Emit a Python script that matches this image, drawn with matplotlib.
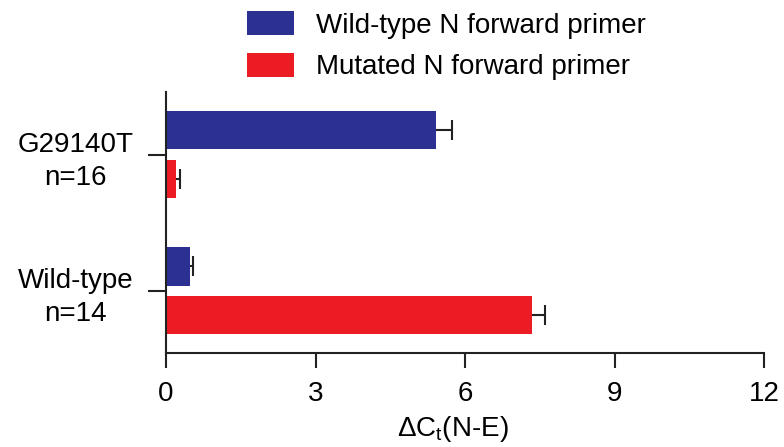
import numpy as np
import matplotlib.pyplot as plt

plt.rcParams['font.family'] = ['Liberation Sans', 'DejaVu Sans']
plt.rcParams['mathtext.fontset'] = 'custom'
plt.rcParams['mathtext.rm'] = 'Liberation Sans'
plt.rcParams['mathtext.it'] = 'Liberation Sans'

# data
groups = ['Wild-type\nn=14', 'G29140T\nn=16']
wt_primer = [0.48, 5.42]
wt_err = [0.06, 0.32]
mut_primer = [7.35, 0.20]
mut_err = [0.26, 0.08]
xticks = [0, 3, 6, 9, 12]

blue = '#2c3191'
red = '#ec1c24'
dark = '#222222'

fig = plt.figure(figsize=(7.84, 4.47), dpi=100)
ax = fig.add_axes([0.2117, 0.2103, 0.763, 0.584])

y = np.arange(len(groups))
h = 0.28
off = 0.18
for vals, errs, col, pos, lab in [(wt_primer, wt_err, blue, y + off, 'Wild-type N forward primer'),
                                  (mut_primer, mut_err, red, y - off, 'Mutated N forward primer')]:
    ax.barh(pos, vals, height=h, color=col, label=lab, zorder=2)
    # one-sided error bars, cap only at the outer end
    ax.errorbar(vals, pos, xerr=[np.zeros(len(vals)), errs], fmt='none',
                ecolor=dark, elinewidth=1.5, capsize=0, zorder=3)
    ax.plot(np.add(vals, errs), pos, ls='none', marker='|', ms=15, mew=1.5,
            color=dark, zorder=3)

ax.set_xlim(0, 12)
ax.set_ylim(-0.456, 1.463)
ax.set_xticks(xticks)
ax.set_yticks(y)
ax.set_yticklabels(groups, ha='center', multialignment='center', linespacing=1.35)
ax.tick_params(labelsize=20, width=1.5, color=dark)
ax.tick_params(axis='x', length=11, pad=9)
ax.tick_params(axis='y', length=13, pad=52)
for s in ['top', 'right']:
    ax.spines[s].set_visible(False)
for s in ['left', 'bottom']:
    ax.spines[s].set_linewidth(1.5)
    ax.spines[s].set_color(dark)
ax.set_xlabel(r'$\Delta$C$_{\mathregular{t}}$(N-E)', fontsize=20)
ax.xaxis.set_label_coords(0.48, -0.235)

fig.legend(loc='upper left', bbox_to_anchor=(0.315, 0.975), frameon=False,
           fontsize=20, handlelength=1.7, handleheight=0.95, handletextpad=0.8,
           labelspacing=0.5, borderpad=0, borderaxespad=0)

fig.savefig('out.png', dpi=100)
